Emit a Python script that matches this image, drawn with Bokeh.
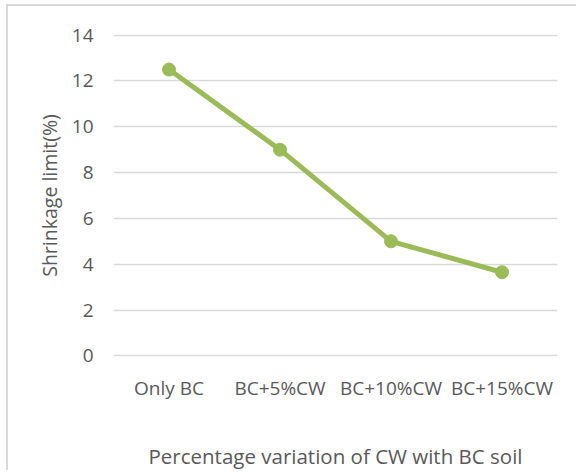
from bokeh.plotting import figure
from bokeh.models import FactorRange, Range1d, FixedTicker
from bokeh.embed import file_html
from bokeh.resources import INLINE

categories = ["Only BC", "BC+5%CW", "BC+10%CW", "BC+15%CW"]
shrinkage_limit = [12.5, 9.0, 5.0, 3.65]
y_ticks = [0, 2, 4, 6, 8, 10, 12, 14]
x_title = "Percentage variation of CW with BC soil"
y_title = "Shrinkage limit(%)"

FONT = "Open Sans"
TXT = "#595959"
GREEN = "#9BBB59"

p = figure(width=570, height=466, output_backend="svg", toolbar_location=None,
           x_range=FactorRange(*categories), y_range=Range1d(-0.03, 14.03),
           min_border_left=105, min_border_right=21, min_border_top=28, min_border_bottom=116)
p.styles = {"border-top": "2px solid #D9D9D9", "border-left": "2px solid #D9D9D9",
            "margin-left": "6px", "margin-top": "4px"}
p.outline_line_color = None
p.background_fill_color = "white"
p.border_fill_color = "white"

p.line(x=categories, y=shrinkage_limit, line_width=5, color=GREEN)
p.scatter(x=categories, y=shrinkage_limit, size=13, color=GREEN)

p.xgrid.grid_line_color = None
p.ygrid.grid_line_color = "#D9D9D9"
p.ygrid.grid_line_width = 1.3
p.yaxis.ticker = FixedTicker(ticks=y_ticks)

for ax in (p.xaxis[0], p.yaxis[0]):
    ax.axis_line_color = None
    ax.major_tick_line_color = None
    ax.minor_tick_line_color = None
    ax.major_label_text_font = FONT
    ax.major_label_text_font_size = "19px"
    ax.major_label_text_color = TXT
    ax.axis_label_text_font = FONT
    ax.axis_label_text_font_style = "normal"
    ax.axis_label_text_color = TXT

p.yaxis.major_label_standoff = 14
p.xaxis.major_label_standoff = 12
p.yaxis.axis_label = y_title
p.yaxis.axis_label_text_font_size = "19.5px"
p.yaxis.axis_label_standoff = 6

xax = p.xaxis[0]
xax.axis_label = x_title
xax.axis_label_align = "center"
xax.axis_label_text_font_size = "20.5px"
xax.axis_label_standoff = 38

open("out.html", "w").write(file_html(p, INLINE))
